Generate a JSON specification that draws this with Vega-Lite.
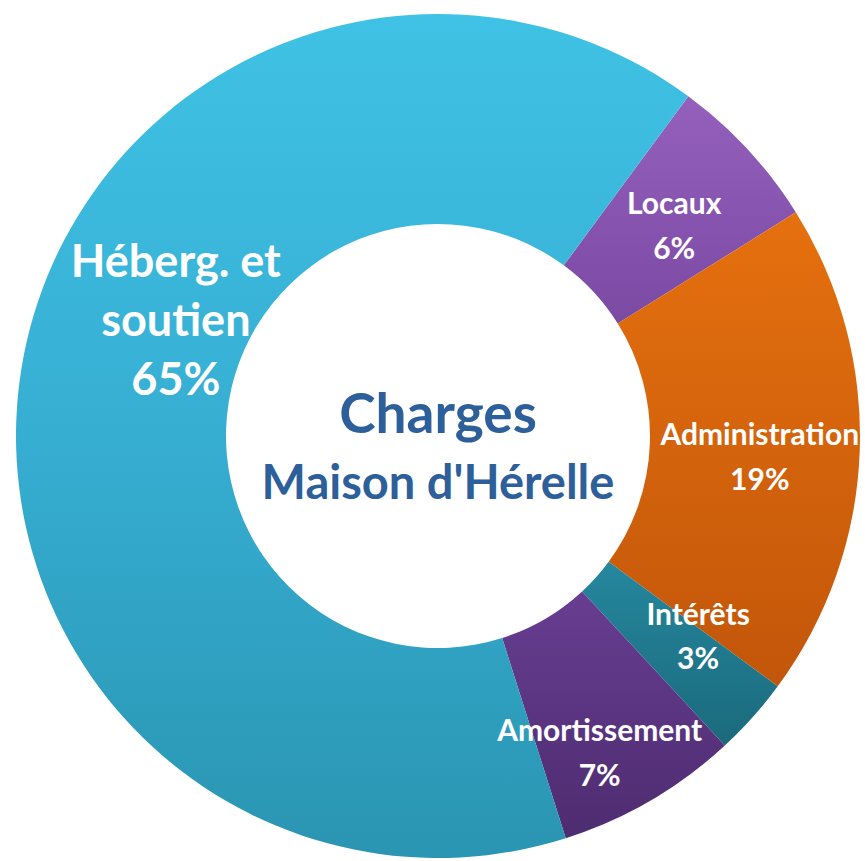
{
  "$schema": "https://vega.github.io/schema/vega-lite/v6.json",
  "width": 854,
  "height": 850,
  "autosize": {"type": "none"},
  "padding": {"left": 11, "top": 11, "right": 0, "bottom": 0},
  "background": "white",
  "config": {"view": {"stroke": null}},
  "datasets": {
    "charges": [
      {"categorie": "Locaux", "ordre": 1, "valeur": 6, "etiquette": "Locaux\n6%"},
      {"categorie": "Administration", "ordre": 2, "valeur": 19, "etiquette": "Administration\n19%"},
      {"categorie": "Intérêts", "ordre": 3, "valeur": 3, "etiquette": "Intérêts\n3%"},
      {"categorie": "Amortissement", "ordre": 4, "valeur": 7, "etiquette": "Amortissement\n7%"},
      {"categorie": "Héberg. et soutien", "ordre": 5, "valeur": 65, "etiquette": "Héberg. et\nsoutien\n65%"}
    ],
    "titre": [
      {"ligne1": "Charges", "ligne2": "Maison d'Hérelle"}
    ]
  },
  "layer": [
    {
      "data": {"name": "charges"},
      "mark": {"type": "arc", "outerRadius": 422, "innerRadius": 212},
      "encoding": {
        "theta": {"field": "valeur", "type": "quantitative", "stack": true, "scale": {"range": [0.635, 6.918]}},
        "order": {"field": "ordre", "type": "quantitative"},
        "detail": {"field": "categorie"},
        "color": {
          "condition": [
            {"test": "datum.categorie === 'Locaux'", "value": {"gradient": "linear", "x1": 0, "y1": 0, "x2": 0, "y2": 1, "stops": [{"offset": 0, "color": "#9460BC"}, {"offset": 1, "color": "#7B4AA3"}]}},
            {"test": "datum.categorie === 'Administration'", "value": {"gradient": "linear", "x1": 0, "y1": 0, "x2": 0, "y2": 1, "stops": [{"offset": 0, "color": "#E5700E"}, {"offset": 1, "color": "#C2560A"}]}},
            {"test": "datum.categorie === 'Intérêts'", "value": {"gradient": "linear", "x1": 0, "y1": 0, "x2": 0, "y2": 1, "stops": [{"offset": 0, "color": "#25879E"}, {"offset": 1, "color": "#1B6A7C"}]}},
            {"test": "datum.categorie === 'Amortissement'", "value": {"gradient": "linear", "x1": 0, "y1": 0, "x2": 0, "y2": 1, "stops": [{"offset": 0, "color": "#673D91"}, {"offset": 1, "color": "#4E2C70"}]}}
          ],
          "value": {"gradient": "linear", "x1": 0, "y1": 0, "x2": 0, "y2": 1, "stops": [{"offset": 0, "color": "#3FC2E5"}, {"offset": 0.5, "color": "#36AED2"}, {"offset": 1, "color": "#2A95B2"}]}
        }
      }
    },
    {
      "data": {"name": "charges"},
      "mark": {"type": "text", "font": "Lato", "fontWeight": "bold", "fontSize": 30, "lineHeight": 45, "lineBreak": "\n", "align": "center", "baseline": "middle", "color": "white", "dy": -12},
      "encoding": {
        "theta": {"field": "valeur", "type": "quantitative", "stack": true},
        "order": {"field": "ordre", "type": "quantitative"},
        "detail": {"field": "categorie"},
        "radius": {"value": 322},
        "text": {"condition": {"test": "datum.categorie === 'Locaux' || datum.categorie === 'Administration'", "field": "etiquette"}, "value": ""}
      }
    },
    {
      "data": {"name": "charges"},
      "mark": {"type": "text", "font": "Lato", "fontWeight": "bold", "fontSize": 30, "lineHeight": 44, "lineBreak": "\n", "align": "center", "baseline": "middle", "color": "white", "dx": 20, "dy": -35},
      "encoding": {
        "theta": {"field": "valeur", "type": "quantitative", "stack": true},
        "order": {"field": "ordre", "type": "quantitative"},
        "detail": {"field": "categorie"},
        "radius": {"value": 322},
        "text": {"condition": {"test": "datum.categorie === 'Intérêts'", "field": "etiquette"}, "value": ""}
      }
    },
    {
      "data": {"name": "charges"},
      "mark": {"type": "text", "font": "Lato", "fontWeight": "bold", "fontSize": 30, "lineHeight": 45, "lineBreak": "\n", "align": "center", "baseline": "middle", "color": "white", "dx": -17, "dy": -11},
      "encoding": {
        "theta": {"field": "valeur", "type": "quantitative", "stack": true},
        "order": {"field": "ordre", "type": "quantitative"},
        "detail": {"field": "categorie"},
        "radius": {"value": 355},
        "text": {"condition": {"test": "datum.categorie === 'Amortissement'", "field": "etiquette"}, "value": ""}
      }
    },
    {
      "data": {"name": "charges"},
      "mark": {"type": "text", "font": "Lato", "fontWeight": "bold", "fontSize": 45, "lineHeight": 59, "lineBreak": "\n", "align": "center", "baseline": "middle", "color": "white", "dx": 20, "dy": -126},
      "encoding": {
        "theta": {"field": "valeur", "type": "quantitative", "stack": true},
        "order": {"field": "ordre", "type": "quantitative"},
        "detail": {"field": "categorie"},
        "radius": {"value": 286},
        "text": {"condition": {"test": "datum.categorie === 'Héberg. et soutien'", "field": "etiquette"}, "value": ""}
      }
    },
    {
      "data": {"name": "titre"},
      "mark": {"type": "text", "font": "Lato", "fontWeight": "bold", "fontSize": 55, "align": "center", "baseline": "alphabetic", "color": "#2D5F9A", "dy": -3},
      "encoding": {"text": {"field": "ligne1"}}
    },
    {
      "data": {"name": "titre"},
      "mark": {"type": "text", "font": "Lato", "fontWeight": "bold", "fontSize": 47, "align": "center", "baseline": "alphabetic", "color": "#2D5F9A", "dy": 63},
      "encoding": {"text": {"field": "ligne2"}}
    }
  ]
}
